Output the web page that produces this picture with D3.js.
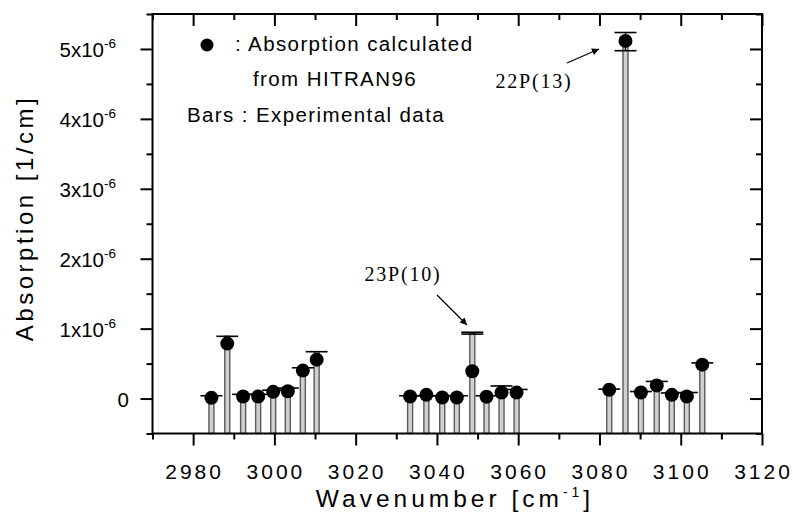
<!DOCTYPE html>
<html lang="en">

<head>
  <meta charset="UTF-8" />
  <title>Absorption vs wavenumber</title>
  <script src="https://d3js.org/d3.v7.js"></script>
  <style>
    body { margin: 0; background: #fff; }
    text { font-family: "Liberation Sans", Arial, sans-serif; fill: #000; }
  </style>
</head>

<body>
  <svg></svg>
</body>

<script>
  // wavenumber of each line (cm^-1)
  const wavenumbers = [2984.5, 2988.4, 2992.3, 2996.0, 2999.7, 3003.3, 3007.0, 3010.4,
    3033.4, 3037.4, 3041.3, 3044.9, 3048.7, 3052.2, 3055.9, 3059.6,
    3082.4, 3086.4, 3090.2, 3094.1, 3097.8, 3101.5, 3105.3];
  // experimental absorption (units of 1e-6 1/cm) and its error
  const experimental = [0.04, 0.89, 0.06, 0.06, 0.12, 0.15, 0.44, 0.67,
    0.04, 0.04, 0.04, 0.04, 0.935, 0.04, 0.18, 0.13,
    0.135, 5.105, 0.10, 0.245, 0.08, 0.086, 0.51];
  const expError = [0, 0, 0, 0, 0, 0, 0, 0,
    0, 0, 0, 0, 0.013, 0, 0, 0,
    0, 0.13, 0, 0, 0, 0, 0];
  // absorption calculated from HITRAN96 (units of 1e-6 1/cm)
  const calculated = [0.01, 0.786, 0.03, 0.03, 0.096, 0.105, 0.40, 0.556,
    0.03, 0.053, 0.015, 0.015, 0.39, 0.025, 0.085, 0.085,
    0.125, 5.115, 0.086, 0.187, 0.053, 0.03, 0.485];

  const xMajor = [2980, 3000, 3020, 3040, 3060, 3080, 3100, 3120];
  const xMinor = [2970, 2990, 3010, 3030, 3050, 3070, 3090, 3110];
  const yMajor = [0, 1, 2, 3, 4, 5];
  const yMinor = [-0.5, 0.5, 1.5, 2.5, 3.5, 4.5, 5.5];

  const width = 793, height = 523;
  const pLeft = 152.5, pRight = 762, pTop = 14, pBottom = 433.5;

  const svg = d3.select('svg').attr('width', width).attr('height', height);

  const x = d3.scaleLinear().domain([2970, 3120]).range([pLeft, pRight]);
  const y = d3.scaleLinear().domain([-0.5, 5.5]).range([pBottom, pTop]);

  const lines = wavenumbers.map((w, i) => ({
    w: w, e: experimental[i], err: expError[i], c: calculated[i]
  }));

  // bars (experimental)
  svg.selectAll('.bar')
    .data(lines)
    .join('rect')
    .classed('bar', true)
    .attr('x', d => x(d.w) - 2.5)
    .attr('y', d => y(d.e))
    .attr('width', 5)
    .attr('height', d => y(-0.5) - y(d.e))
    .style('fill', '#d0d0d0')
    .style('stroke', '#5a5a5a')
    .style('stroke-width', 1.4);

  // error bars with caps
  const err = svg.append('g');
  err.selectAll('.ebar')
    .data(lines.filter(d => d.err > 0))
    .join('line')
    .attr('x1', d => x(d.w)).attr('x2', d => x(d.w))
    .attr('y1', d => y(d.e - d.err)).attr('y2', d => y(d.e + d.err))
    .style('stroke', '#000').style('stroke-width', 1.2);
  err.selectAll('.capTop')
    .data(lines)
    .join('line')
    .attr('x1', d => x(d.w) - 11).attr('x2', d => x(d.w) + 11)
    .attr('y1', d => y(d.e + d.err)).attr('y2', d => y(d.e + d.err))
    .style('stroke', '#000').style('stroke-width', 1.6);
  err.selectAll('.capBot')
    .data(lines.filter(d => d.err > 0))
    .join('line')
    .attr('x1', d => x(d.w) - 11).attr('x2', d => x(d.w) + 11)
    .attr('y1', d => y(d.e - d.err)).attr('y2', d => y(d.e - d.err))
    .style('stroke', '#000').style('stroke-width', 1.6);

  // calculated points
  svg.selectAll('.dot')
    .data(lines)
    .join('circle')
    .classed('dot', true)
    .attr('cx', d => x(d.w))
    .attr('cy', d => y(d.c))
    .attr('r', 7)
    .style('fill', '#000');

  // axes
  function styleAxis(g) {
    g.select('.domain').remove();
    g.selectAll('line').style('stroke', '#000').style('stroke-width', 2);
    g.selectAll('text').remove();
  }
  svg.append('g').attr('transform', `translate(0,${pBottom})`)
    .call(d3.axisBottom(x).tickValues(xMajor).tickSize(12).tickSizeOuter(0)).call(styleAxis);
  svg.append('g').attr('transform', `translate(0,${pBottom})`)
    .call(d3.axisBottom(x).tickValues(xMinor).tickSize(6).tickSizeOuter(0)).call(styleAxis);
  svg.append('g').attr('transform', `translate(0,${pTop})`)
    .call(d3.axisBottom(x).tickValues(xMajor).tickSize(12).tickSizeOuter(0)).call(styleAxis);
  svg.append('g').attr('transform', `translate(0,${pTop})`)
    .call(d3.axisBottom(x).tickValues(xMinor).tickSize(6).tickSizeOuter(0)).call(styleAxis);
  svg.append('g').attr('transform', `translate(${pLeft},0)`)
    .call(d3.axisLeft(y).tickValues(yMajor).tickSize(12).tickSizeOuter(0)).call(styleAxis);
  svg.append('g').attr('transform', `translate(${pLeft},0)`)
    .call(d3.axisLeft(y).tickValues(yMinor).tickSize(6).tickSizeOuter(0)).call(styleAxis);
  svg.append('g').attr('transform', `translate(${pRight},0)`)
    .call(d3.axisLeft(y).tickValues(yMajor).tickSize(12).tickSizeOuter(0)).call(styleAxis);
  svg.append('g').attr('transform', `translate(${pRight},0)`)
    .call(d3.axisLeft(y).tickValues(yMinor).tickSize(6).tickSizeOuter(0)).call(styleAxis);

  // frame
  svg.append('rect')
    .attr('x', pLeft).attr('y', pTop)
    .attr('width', pRight - pLeft).attr('height', pBottom - pTop)
    .style('fill', 'none').style('stroke', '#000').style('stroke-width', 2);

  // x tick labels
  svg.selectAll('.xlab')
    .data(xMajor)
    .join('text')
    .attr('x', d => x(d) + 1.5)
    .attr('y', 479)
    .attr('text-anchor', 'middle')
    .style('font-size', '21px')
    .style('letter-spacing', '3px')
    .text(d => d);

  // y tick labels
  const ylab = svg.selectAll('.ylab')
    .data(yMajor)
    .join('text')
    .attr('x', d => d === 0 ? 129 : 116)
    .attr('y', d => y(d) + 8)
    .attr('text-anchor', 'end')
    .style('font-size', '20.5px');
  ylab.filter(d => d === 0).text('0');
  ylab.filter(d => d !== 0).each(function (d) {
    const t = d3.select(this);
    t.append('tspan').text(d + 'x10');
    t.append('tspan').attr('dy', -9).style('font-size', '13.5px').text('-6');
  });

  // axis titles
  const xt = svg.append('text')
    .attr('x', 455).attr('y', 507)
    .attr('text-anchor', 'middle')
    .style('font-size', '24.5px')
    .style('letter-spacing', '4px');
  xt.append('tspan').text('Wavenumber [cm');
  xt.append('tspan').attr('dy', -10).style('font-size', '14px').text('-1');
  xt.append('tspan').attr('dy', 10).text(']');

  svg.append('text')
    .attr('transform', 'translate(33,218) rotate(-90)')
    .attr('text-anchor', 'middle')
    .style('font-size', '24px')
    .style('letter-spacing', '3.5px')
    .text('Absorption [1/cm]');

  // legend
  svg.append('circle').attr('cx', 207).attr('cy', 45).attr('r', 6.5).style('fill', '#000');
  const legend = [
    { t: ': Absorption calculated', x: 235, y: 51 },
    { t: 'from HITRAN96', x: 253, y: 86 },
    { t: 'Bars : Experimental data', x: 187, y: 122 }
  ];
  svg.selectAll('.leg')
    .data(legend)
    .join('text')
    .attr('x', d => d.x).attr('y', d => d.y)
    .style('font-size', '20.5px')
    .style('letter-spacing', '1.4px')
    .text(d => d.t);

  // annotations
  svg.append('defs').append('marker')
    .attr('id', 'head').attr('viewBox', '0 0 10 10')
    .attr('refX', 10).attr('refY', 5)
    .attr('markerWidth', 9).attr('markerHeight', 7)
    .attr('markerUnits', 'userSpaceOnUse')
    .attr('orient', 'auto')
    .append('path').attr('d', 'M0,0 L10,5 L0,10 z').style('fill', '#000');

  const notes = [
    { t: '22P(13)', tx: 534, ty: 88, x1: 567, y1: 63, x2: 599, y2: 49 },
    { t: '23P(10)', tx: 403, ty: 281, x1: 437, y1: 295, x2: 467, y2: 325 }
  ];
  svg.selectAll('.note')
    .data(notes)
    .join('text')
    .attr('x', d => d.tx).attr('y', d => d.ty)
    .attr('text-anchor', 'middle')
    .style('font-family', '"Liberation Serif", "Times New Roman", serif')
    .style('font-size', '20px')
    .style('letter-spacing', '1.8px')
    .text(d => d.t);
  svg.selectAll('.arrow')
    .data(notes)
    .join('line')
    .attr('x1', d => d.x1).attr('y1', d => d.y1)
    .attr('x2', d => d.x2).attr('y2', d => d.y2)
    .style('stroke', '#000').style('stroke-width', 1.3)
    .attr('marker-end', 'url(#head)');
</script>

</html>
